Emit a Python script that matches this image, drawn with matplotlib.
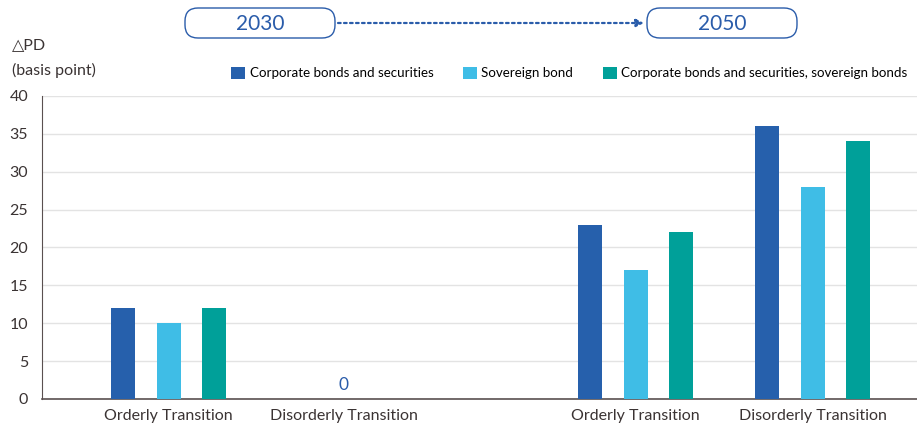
import matplotlib.pyplot as plt
from matplotlib.patches import FancyBboxPatch
import numpy as np

plt.rcParams['font.family'] = ['Lato', 'DejaVu Sans']

categories = ["Orderly Transition", "Disorderly Transition", "Orderly Transition", "Disorderly Transition"]
corporate = [12, 0, 23, 36]
sovereign = [10, 0, 17, 28]
combined = [12, 0, 22, 34]
series_names = ["Corporate bonds and securities", "Sovereign bond",
                "Corporate bonds and securities, sovereign bonds"]
colors = ["#2660ac", "#3fbde6", "#00a099"]
years = ["2030", "2050"]

# category centres (gap between the 2030 and 2050 groups)
x = np.array([0, 1.0, 2.67, 3.68])
width = 0.137
offset = 0.26

fig = plt.figure(figsize=(9.17, 4.24), dpi=100)
ax = fig.add_axes([0.0458, 0.059, 0.9542, 0.7146])

for i, (vals, c, name) in enumerate(zip([corporate, sovereign, combined], colors, series_names)):
    ax.bar(x + (i - 1) * offset, vals, width, color=c, label=name, zorder=3)

ax.set_xlim(-0.723, 4.277)
ax.set_ylim(0, 40)
ax.set_yticks(range(0, 41, 5))
ax.set_xticks(x, categories)
ax.grid(axis='y', color='#e3e3e3', linewidth=1, zorder=0)
for s in ['top', 'right']:
    ax.spines[s].set_visible(False)
ax.spines['left'].set_color('#5a5050')
ax.spines['bottom'].set_color('#5a5050')
ax.spines['bottom'].set_linewidth(1.2)
ax.tick_params(axis='x', length=0, labelsize=11.5, labelcolor='#3a3333', pad=7)
ax.tick_params(axis='y', length=0, labelsize=11.5, labelcolor='#3a3333', pad=10)

ax.text(x[1], 0.8, "0", color="#2a5caa", fontsize=12.5, ha='center', va='bottom')

fig.text(12 / 917, 1 - 45 / 424, "△PD", fontsize=11.5, color='#3a3333', va='center')
fig.text(12 / 917, 1 - 70 / 424, "(basis point)", fontsize=11.5, color='#3a3333', va='center')

fig.legend(loc='center left', bbox_to_anchor=(231 / 917, 1 - 73 / 424), ncol=3, frameon=False,
           fontsize=9.6, handlelength=1.05, handleheight=1.05, handletextpad=0.35,
           columnspacing=2.2, borderaxespad=0, borderpad=0)

# header: year boxes joined by a dotted arrow, drawn in pixel coordinates
top = fig.add_axes([0, 0, 1, 1], facecolor='none')
top.set_xlim(0, 917)
top.set_ylim(424, 0)
top.axis('off')
for x0, label in zip([185, 647], years):
    top.add_patch(FancyBboxPatch((x0, 8), 150, 30, boxstyle="round,pad=0,rounding_size=13",
                                 facecolor='white', edgecolor='#2a5caa', linewidth=1.0))
    top.text(x0 + 75, 24, label, fontsize=15, color='#2a5caa', ha='center', va='center')
top.annotate("", xy=(644, 23), xytext=(338, 23),
             arrowprops=dict(arrowstyle='-|>', color='#2a5caa', linestyle=(0, (1.2, 1.5)),
                             linewidth=1.6, mutation_scale=11, shrinkA=0, shrinkB=0))

fig.savefig("out.png", dpi=100)
